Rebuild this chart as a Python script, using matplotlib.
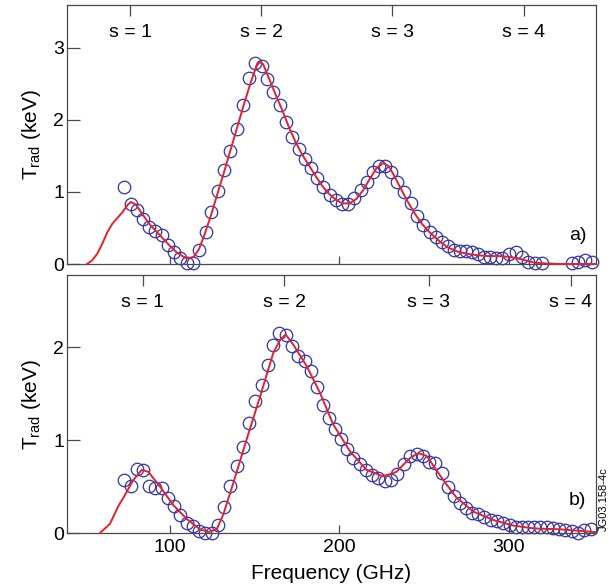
import matplotlib
matplotlib.use("Agg")
import matplotlib.pyplot as plt
import matplotlib.transforms as mtransforms

plt.rcParams['font.family'] = ['Liberation Sans', 'DejaVu Sans']

# panel a) measured points
freq_a = [72.8, 76.8, 80.3, 83.9, 87.8, 91.3, 95.1, 99.0, 102.4, 106.1, 109.9, 113.8,
          117.3, 121.1, 124.4, 128.4, 132.1, 135.4, 139.4, 142.9, 146.5, 150.4, 154.2,
          157.5, 161.0, 165.0, 168.5, 172.3, 176.0, 179.7, 183.3, 187.0, 190.6, 194.5,
          198.0, 201.8, 205.3, 208.9, 212.6, 216.2, 219.7, 223.7, 227.2, 230.5, 234.3,
          238.4, 242.2, 245.7, 249.6, 253.6, 257.1, 260.5, 264.0, 267.5, 271.3, 274.8,
          278.4, 282.1, 285.7, 289.0, 292.6, 296.3, 300.2, 304.2, 307.7, 311.7, 315.6,
          319.5, 337.3, 341.2, 345.1, 349.1]
trad_a = [1.07, 0.83, 0.75, 0.62, 0.51, 0.46, 0.40, 0.26, 0.16, 0.08, 0.02, 0.02,
          0.20, 0.45, 0.72, 1.01, 1.30, 1.57, 1.87, 2.21, 2.58, 2.78, 2.74,
          2.56, 2.39, 2.21, 1.97, 1.76, 1.59, 1.46, 1.33, 1.19, 1.07, 0.96,
          0.89, 0.83, 0.83, 0.92, 1.02, 1.13, 1.27, 1.36, 1.36, 1.28, 1.14,
          1.00, 0.84, 0.66, 0.54, 0.45, 0.38, 0.31, 0.25, 0.20, 0.18, 0.18,
          0.17, 0.14, 0.10, 0.10, 0.09, 0.09, 0.14, 0.16, 0.10, 0.03, 0.02,
          0.02, 0.01, 0.03, 0.05, 0.03]

# panel a) model curve
fit_freq_a = [51, 54, 57, 60, 63, 66, 69, 72, 75, 77, 80, 84, 88, 92, 96, 100, 104, 108,
              111, 114, 117, 120, 124, 128, 132, 136, 140, 144, 148, 151, 153, 155, 158,
              162, 166, 170, 174, 178, 182, 186, 190, 194, 198, 202, 206, 210, 214, 218,
              222, 226, 229, 232, 236, 240, 244, 248, 252, 256, 260, 264, 270, 276, 282,
              288, 294, 300, 305, 310, 315, 320, 330, 351]
fit_trad_a = [0.0, 0.05, 0.14, 0.28, 0.44, 0.56, 0.64, 0.72, 0.82, 0.86, 0.82, 0.68, 0.55,
              0.45, 0.35, 0.25, 0.16, 0.10, 0.08, 0.10, 0.20, 0.38, 0.66, 0.97, 1.28, 1.60,
              1.92, 2.24, 2.54, 2.74, 2.80, 2.77, 2.60, 2.37, 2.15, 1.91, 1.70, 1.52, 1.37,
              1.22, 1.08, 0.97, 0.89, 0.84, 0.84, 0.90, 1.02, 1.18, 1.33, 1.40, 1.36, 1.24,
              1.06, 0.88, 0.72, 0.58, 0.47, 0.38, 0.30, 0.23, 0.17, 0.14, 0.12, 0.11, 0.11,
              0.10, 0.08, 0.05, 0.02, 0.01, 0.0, 0.0]

# panel b) measured points
freq_b = [72.8, 76.8, 80.3, 83.9, 87.6, 91.1, 95.1, 98.6, 102.4, 105.9, 109.9, 113.4,
          117.1, 120.9, 124.6, 128.4, 131.9, 135.4, 139.4, 142.9, 146.5, 150.4, 154.2,
          157.7, 161.0, 164.6, 168.3, 171.9, 175.8, 179.5, 183.2, 186.8, 190.1, 193.9,
          197.4, 201.0, 204.7, 208.3, 212.2, 215.8, 219.5, 223.1, 227.0, 230.6, 234.3,
          238.3, 241.8, 245.8, 249.3, 253.2, 256.6, 260.5, 264.0, 267.7, 271.3, 274.8,
          278.6, 282.1, 285.7, 289.4, 293.0, 296.9, 300.5, 304.2, 307.8, 311.3, 315.2,
          318.6, 322.5, 326.1, 329.8, 333.3, 337.3, 341.2, 344.7, 348.5]
trad_b = [0.57, 0.51, 0.69, 0.68, 0.51, 0.48, 0.48, 0.38, 0.29, 0.19, 0.11, 0.08,
          0.02, 0.0, 0.0, 0.09, 0.28, 0.51, 0.72, 0.93, 1.19, 1.42, 1.59,
          1.81, 2.03, 2.15, 2.13, 2.02, 1.91, 1.85, 1.75, 1.57, 1.38, 1.24,
          1.12, 1.01, 0.90, 0.81, 0.74, 0.68, 0.62, 0.59, 0.56, 0.57, 0.64,
          0.74, 0.83, 0.85, 0.83, 0.77, 0.75, 0.65, 0.50, 0.40, 0.32, 0.27,
          0.22, 0.20, 0.17, 0.14, 0.13, 0.11, 0.09, 0.07, 0.06, 0.06, 0.06,
          0.06, 0.06, 0.05, 0.04, 0.03, 0.02, 0.0, 0.03, 0.04]

# panel b) model curve
fit_freq_b = [58.7, 64.6, 69.5, 72.8, 78.3, 83.3, 87.2, 94.1, 102, 110, 117.7, 122.6,
              127.6, 131.5, 137.4, 145.3, 153.2, 161.0, 165, 168.3, 172.8, 180.7, 188.6,
              196.4, 206.3, 216.1, 226, 233.8, 241.8, 246.7, 251.6, 261.4, 269.3, 279.2,
              291, 302.8, 314.6, 330.3, 351]
fit_trad_b = [0.0, 0.10, 0.29, 0.39, 0.57, 0.68, 0.66, 0.50, 0.30, 0.15, 0.04, 0.01,
              0.04, 0.20, 0.54, 1.01, 1.47, 1.94, 2.08, 2.14, 2.03, 1.80, 1.51,
              1.17, 0.88, 0.68, 0.61, 0.66, 0.81, 0.86, 0.83, 0.57, 0.38, 0.23,
              0.14, 0.08, 0.05, 0.04, 0.01]

# cyclotron harmonics (top ticks)
harm_labels = ["s = 1", "s = 2", "s = 3", "s = 4"]
harm_a = [76.4, 153.8, 231.4, 308.9]
harm_b = [84.0, 167.5, 252.7, 336.7]

x_ticks = [100, 200, 300]
panels = [
    (freq_a, trad_a, fit_freq_a, fit_trad_a, harm_a, [0, 1, 2, 3], 3.59, "a)"),
    (freq_b, trad_b, fit_freq_b, fit_trad_b, harm_b, [0, 1, 2], 2.78, "b)"),
]

fig = plt.figure(figsize=(6.11, 5.88), dpi=100)
rects = [[0.1097, 0.551, 0.8658, 0.4405], [0.1097, 0.0935, 0.8658, 0.4388]]
spine_col = '#4a4a4a'
blue = '#3333a6'
red = '#e3222b'

for i, (fx, ty, mfx, mty, harm, yt, ytop, tag) in enumerate(panels):
    ax = fig.add_axes(rects[i])
    ax.plot(mfx, mty, color=red, lw=1.4, zorder=3, clip_on=False)
    ax.plot(fx, ty, 'o', mfc='none', mec=blue, ms=9, mew=0.9, zorder=2, clip_on=False)
    ax.set_xlim(39.2, 351.6)
    ax.set_ylim(0, ytop)
    ax.set_yticks(yt)
    ax.set_xticks(x_ticks)
    for sp in ax.spines.values():
        sp.set_color(spine_col)
        sp.set_linewidth(0.9)
    ax.tick_params(axis='y', direction='in', length=9, width=0.9, color=spine_col,
                   labelsize=14, pad=2)
    ax.tick_params(axis='x', direction='in', length=6, width=0.9, color=spine_col,
                   labelsize=14, pad=4)
    if i == 0:
        ax.tick_params(axis='x', labelbottom=False)
    else:
        ax.set_xlabel("Frequency (GHz)", fontsize=15, labelpad=6)
    ax.set_ylabel(r"T$_{\mathregular{rad}}$ (keV)", fontsize=15)
    ax.yaxis.set_label_coords(-0.045, 0.5)

    top = ax.secondary_xaxis('top')
    top.set_xticks(harm)
    top.tick_params(direction='in', length=8, width=0.9, color=spine_col, labeltop=False)
    top.spines['top'].set_visible(False)
    trans = mtransforms.blended_transform_factory(ax.transData, ax.transAxes)
    for h, lab in zip(harm, harm_labels):
        ax.text(h, 0.895, lab, transform=trans, ha='center', va='center', fontsize=14)
    ax.text(0.965, 0.11 if i == 0 else 0.125, tag, transform=ax.transAxes,
            ha='center', va='center', fontsize=14)

fig.text(604 / 611, 1 - 499 / 588, "JG03.158-4c", rotation=90, ha='center',
         va='center', fontsize=8)

fig.savefig("out.png", dpi=100)
